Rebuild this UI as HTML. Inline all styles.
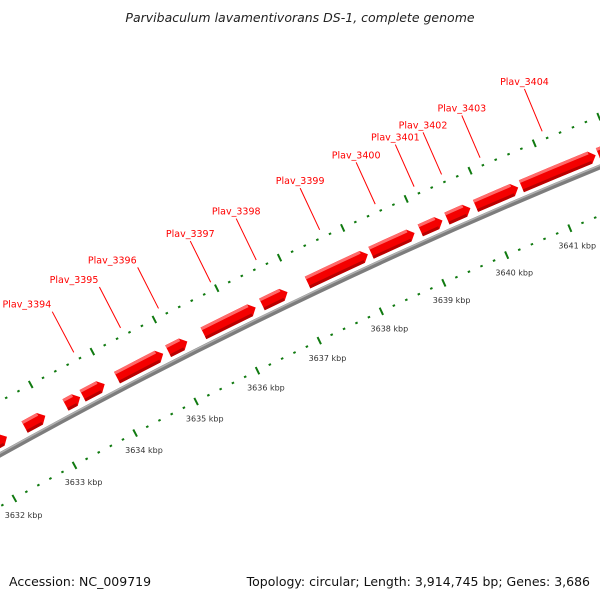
<!DOCTYPE html>
<html><head><meta charset="utf-8"><style>
html,body{margin:0;padding:0;background:#fff;}
svg{display:block;font-family:"DejaVu Sans","Liberation Sans",sans-serif;}
</style></head><body>
<svg id="map" width="600" height="600" viewBox="0 0 600 600" xmlns="http://www.w3.org/2000/svg">
<rect width="600" height="600" fill="#fff"/>
<text x="300" y="22" text-anchor="middle" font-size="12.5" font-style="italic" fill="#222">Parvibaculum lavamentivorans DS-1, complete genome</text>
<g id="ticks"></g>
<g id="backbone"></g>
<g id="genes"></g>
<g id="labels"></g>
<text x="9" y="586" font-size="12.5" fill="#111">Accession: NC_009719</text>
<text x="590" y="586" text-anchor="end" font-size="12.5" fill="#111">Topology: circular; Length: 3,914,745 bp; Genes: 3,686</text>
</svg>
<script>
// data (kbp)
const geneStarts = [3631.5, 3632.63, 3633.30, 3633.58, 3634.14, 3634.97, 3635.54, 3636.48, 3637.21, 3638.22, 3639.00, 3639.42, 3639.87, 3640.59, 3641.79];
const geneEnds   = [3632.34, 3632.97, 3633.54, 3633.94, 3634.89, 3635.28, 3636.38, 3636.89, 3638.17, 3638.91, 3639.35, 3639.79, 3640.54, 3641.75, 3642.6];
const geneNames  = ["", "", "", "Plav_3394", "Plav_3395", "Plav_3396", "Plav_3397", "Plav_3398", "Plav_3399", "Plav_3400", "Plav_3401", "Plav_3402", "Plav_3403", "Plav_3404", ""];
const tickKbp = [3630, 3631, 3632, 3633, 3634, 3635, 3636, 3637, 3638, 3639, 3640, 3641, 3642, 3643];
const tickLabels = ["3630 kbp","3631 kbp","3632 kbp","3633 kbp","3634 kbp","3635 kbp","3636 kbp","3637 kbp","3638 kbp","3639 kbp","3640 kbp","3641 kbp","3642 kbp","3643 kbp"];

const NS = "http://www.w3.org/2000/svg";
const cx = 2713, cy = 5339;
const ang = k => (29.14 - 0.71 * (k - 3632)) * Math.PI / 180;
const pt = (k, r) => [cx - r * Math.sin(ang(k)), cy - r * Math.cos(ang(k))];
const f = v => v.toFixed(2);
function arcPath(k1, k2, r) {
  const a = pt(k1, r), b = pt(k2, r);
  return `M${f(a[0])},${f(a[1])} A${r},${r} 0 0 1 ${f(b[0])},${f(b[1])}`;
}
function mk(tag, attrs, parent) {
  const e = document.createElementNS(NS, tag);
  for (const k in attrs) e.setAttribute(k, attrs[k]);
  parent.appendChild(e);
  return e;
}

// ticks
const gT = document.getElementById('ticks');
for (let i = 0; i < tickKbp.length; i++) {
  for (let j = 0; j < 5; j++) {
    const k = tickKbp[i] + j * 0.2;
    const major = j === 0;
    [5542, 5634].forEach(r => {
      const h = major ? 4 : 1;
      const p1 = pt(k, r - h), p2 = pt(k, r + h);
      const ln = mk('line', {x1: f(p1[0]), y1: f(p1[1]), x2: f(p2[0]), y2: f(p2[1]), stroke: '#107a10', 'stroke-width': major ? 2 : 2.5}, gT);
      
      
    });
  }
  const lp = pt(tickKbp[i], 5523);
  const t = mk('text', {x: f(lp[0]), y: f(lp[1] + 3), 'text-anchor': 'middle', 'font-size': 8, fill: '#333'}, gT);
  t.textContent = tickLabels[i];
  
  
}

// backbone
const gB = document.getElementById('backbone');
const bb1 = mk('path', {d: arcPath(3629, 3644, 5587), fill: 'none', stroke: '#7d7d7d', 'stroke-width': 5}, gB);


const bb2 = mk('path', {d: arcPath(3629, 3644, 5588.5), fill: 'none', stroke: '#b0b0b0', 'stroke-width': 1.5}, gB);



// genes
const gG = document.getElementById('genes');
const gL = document.getElementById('labels');
const rIn = 5593, rOut = 5606, rMid = 5599.5;
for (let i = 0; i < geneStarts.length; i++) {
  const s = geneStarts[i], e = geneEnds[i];
  const headK = Math.min(0.09, (e - s) * 0.4);
  const hk = e - headK;
  const a = pt(s, rOut), b = pt(hk, rOut), tip = pt(e, rMid), c = pt(hk, rIn), d = pt(s, rIn);
  const dPath = `M${f(d[0])},${f(d[1])} L${f(a[0])},${f(a[1])} A${rOut},${rOut} 0 0 1 ${f(b[0])},${f(b[1])} L${f(tip[0])},${f(tip[1])} L${f(c[0])},${f(c[1])} A${rIn},${rIn} 0 0 0 ${f(d[0])},${f(d[1])} Z`;
  const g = mk('g', {}, gG);
  
  
  const body = mk('path', {d: dPath, fill: '#f40000'}, g);
  
  
  const hi = mk('path', {d: arcPath(s, hk, rOut - 1.5), fill: 'none', stroke: '#ff6a6a', 'stroke-width': 3}, g);
  
  
  const sh = mk('path', {d: arcPath(s, hk, rIn + 1.5), fill: 'none', stroke: '#b80000', 'stroke-width': 3}, g);
  
  

  if (geneNames[i]) {
    const m = (s + e) / 2;
    const p1 = pt(m, 5642), p2 = pt(m, 5688);
    const ln = mk('line', {x1: f(p1[0]), y1: f(p1[1]), x2: f(p2[0]), y2: f(p2[1]), stroke: '#ff0000', 'stroke-width': 1}, gL);
    
    
    const endAnchor = ang(m) * 180 / Math.PI > 26.4;
    const t = mk('text', {x: f(endAnchor ? p2[0] - 1 : p2[0]), y: f(p2[1] - 4), 'text-anchor': endAnchor ? 'end' : 'middle', 'font-size': 9.5, fill: '#ff0000'}, gL);
    t.textContent = geneNames[i];
    
    
  }
}
</script>
</body></html>
